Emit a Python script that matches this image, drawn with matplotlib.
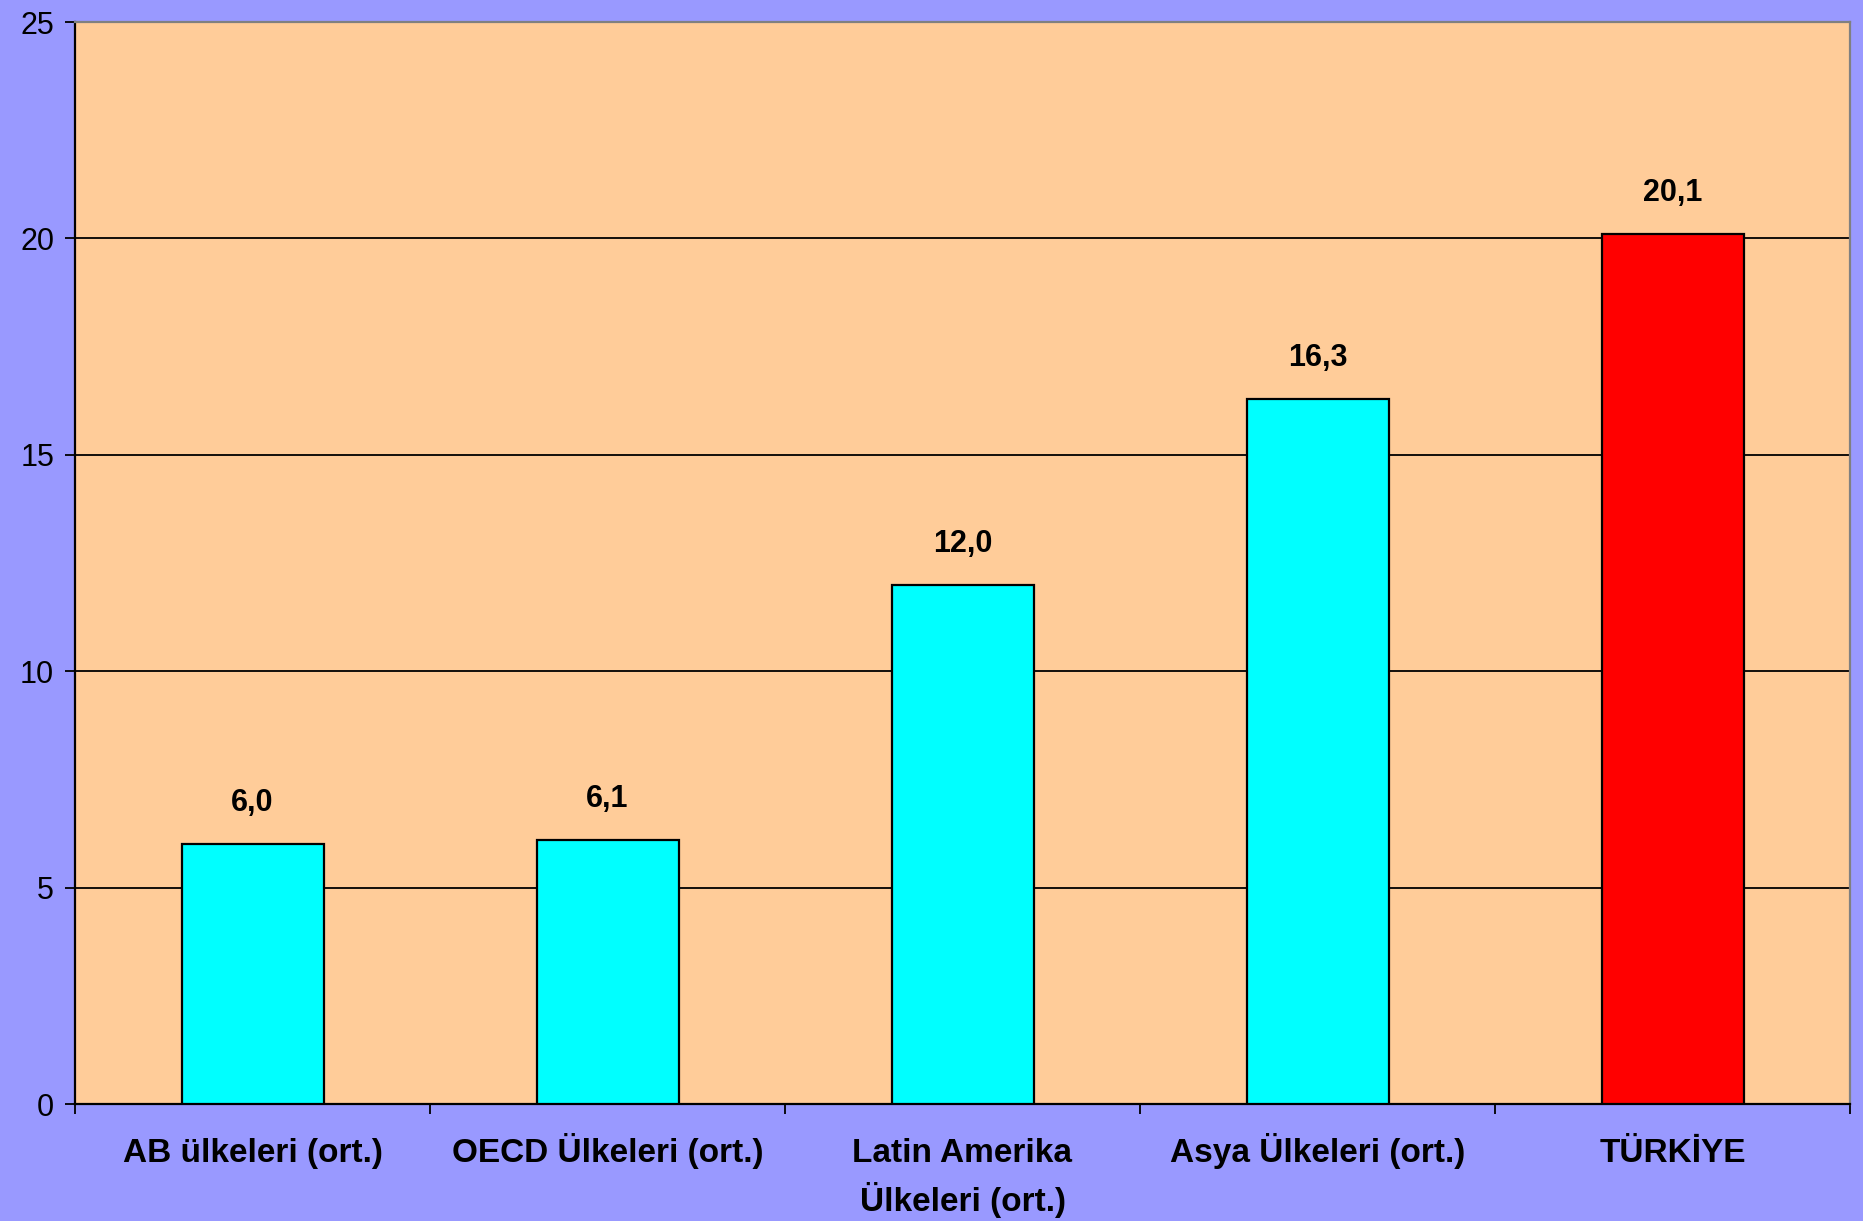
import numpy as np
import matplotlib
matplotlib.use('Agg')
import matplotlib.pyplot as plt

BG     = '#9999FF'
PLOT   = '#FFCC99'
CYAN   = '#00FFFF'
RED    = '#FF0000'

categories = ['AB ülkeleri (ort.)', 'OECD Ülkeleri (ort.)', 'Latin Amerika\nÜlkeleri (ort.)',
              'Asya Ülkeleri (ort.)', 'TÜRKİYE']
values = [6.0, 6.1, 12.0, 16.3, 20.1]
bar_colors = [CYAN, CYAN, CYAN, CYAN, RED]
yticks = [0, 5, 10, 15, 20, 25]

plt.rcParams['font.family'] = ['Liberation Sans', 'DejaVu Sans']

fig = plt.figure(figsize=(18.63, 12.21), dpi=100, facecolor=BG)
ax = fig.add_axes([75 / 1863, 1 - 1104 / 1221, 1775 / 1863, 1082 / 1221])
ax.set_facecolor(PLOT)

x = np.arange(len(categories))
ax.bar(x, values, width=0.4, color=bar_colors, edgecolor='black', linewidth=1.6, zorder=3)

for xi, v in zip(x, values):
    ax.annotate(f'{v:.1f}'.replace('.', ','), xy=(xi, v), xytext=(0, 29.5),
                textcoords='offset points', ha='center', va='center',
                fontsize=22, fontweight='bold', color='black', zorder=4)

ax.set_xlim(-0.5, len(categories) - 0.5)
ax.set_ylim(0, 25)
ax.set_yticks(yticks)
ax.set_yticklabels([str(t) for t in yticks], fontsize=22)
ax.yaxis.grid(True, color='black', linewidth=1.3, zorder=1)
ax.set_axisbelow(True)

# category labels, one text per line so every first line sits on the same baseline
ax.set_xticks(x)
ax.set_xticklabels([])
for xi, label in zip(x, categories):
    for k, line in enumerate(label.split('\n')):
        ax.annotate(line, xy=(xi, 0), xycoords=('data', 'axes fraction'),
                    xytext=(0, -42 - 35 * k), textcoords='offset points',
                    ha='center', va='baseline', fontsize=24, fontweight='bold',
                    annotation_clip=False)
ax.set_xticks(np.arange(len(categories) + 1) - 0.5, minor=True)
ax.tick_params(axis='x', which='major', length=0)
ax.tick_params(axis='x', which='minor', length=7, width=1.3, direction='out')
ax.tick_params(axis='y', length=7, width=1.3, direction='out', pad=8)

for s in ['left', 'bottom']:
    ax.spines[s].set_color('black')
    ax.spines[s].set_linewidth(1.6)
for s in ['top', 'right']:
    ax.spines[s].set_color('#808080')
    ax.spines[s].set_linewidth(1.6)

fig.savefig('out.png', dpi=100, facecolor=BG)
